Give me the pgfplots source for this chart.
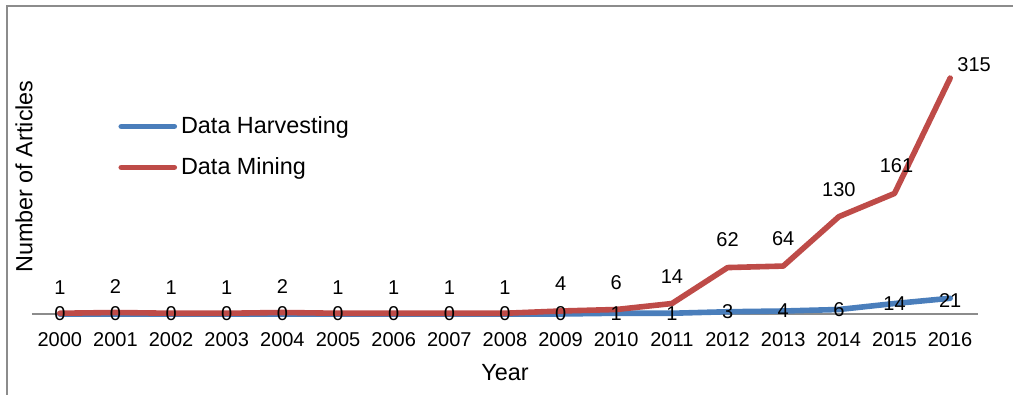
\documentclass[border=0pt]{standalone}
\usepackage{pgfplots}
\pgfplotsset{compat=1.18}
\usepackage{pgfplotstable}
\usepackage{fontspec}
\setmainfont{Liberation Sans}
\definecolor{dhblue}{HTML}{4A7EBB}
\definecolor{dmred}{HTML}{BE4B48}
\definecolor{framegray}{HTML}{8C8C8C}

\pgfplotstableread{
year val dx dy
2000 0 0 0
2001 0 0 0
2002 0 0 0
2003 0 0 0
2004 0 0 0
2005 0 0 0
2006 0 0 0
2007 0 0 0
2008 0 0 0
2009 0 0 0
2010 1 0 0
2011 1 0 0
2012 3 0 0
2013 4 0 0
2014 6 0 0
2015 14 0 0
2016 21 0 -1
}\harvest

\pgfplotstableread{
year val dx dy
2000 1 0 13
2001 2 0 13
2002 1 0 13
2003 1 0 13
2004 2 0 13
2005 1 0 13
2006 1 0 13
2007 1 0 13
2008 1 0 13
2009 4 0 13.5
2010 6 0 13.5
2011 14 0 13.5
2012 62 0 14
2013 64 0 13.5
2014 130 0 13.5
2015 161 1 14
2016 315 12 6.5
}\mining

\begin{document}
\begin{tikzpicture}
\useasboundingbox (0,0) rectangle (506.5pt,-197.5pt);
\draw[framegray, line width=1pt] (3.5pt,-197.5pt) -- (3.5pt,-3pt) -- (506.5pt,-3pt);
\begin{axis}[
  at={(16pt,-157pt)}, anchor=south west,
  scale only axis, width=473pt, height=134.8pt,
  xmin=1999.5, xmax=2016.5, ymin=0, ymax=360,
  axis y line=none, axis x line*=bottom,
  x axis line style={framegray, line width=0.6pt},
  xtick={2000,...,2016}, major tick length=0pt,
  xticklabel style={/pgf/number format/1000 sep={}, /pgf/number format/assume math mode=true, font=\fontsize{10}{12}\selectfont, yshift=-5.5pt},
  clip=false,
  legend style={draw=none, fill=none, at={(0.091,0.749)}, anchor=north west, inner sep=0pt, row sep=6.5pt, font=\fontsize{11.7}{14}\selectfont, nodes={inner sep=2pt}},
  legend cell align=left,
  legend image code/.code={\draw[#1] (0pt,0pt) -- (26.5pt,0pt);},
]
\addplot[dhblue, line width=2.8pt, line cap=round, line join=round,
  point meta=explicit symbolic,
  visualization depends on={\thisrow{dx} \as \dx},
  visualization depends on={\thisrow{dy} \as \dy},
  nodes near coords,
  nodes near coords style={anchor=center, xshift=\dx pt, yshift=\dy pt, font=\fontsize{10}{12}\selectfont, text=black}]
  table[x=year, y=val, meta=val] {\harvest};
\addlegendentry{Data Harvesting}
\addplot[dmred, line width=2.8pt, line cap=round, line join=round,
  point meta=explicit symbolic,
  visualization depends on={\thisrow{dx} \as \dx},
  visualization depends on={\thisrow{dy} \as \dy},
  nodes near coords,
  nodes near coords style={anchor=center, xshift=\dx pt, yshift=\dy pt, font=\fontsize{10}{12}\selectfont, text=black}]
  table[x=year, y=val, meta=val] {\mining};
\addlegendentry{Data Mining}
\end{axis}
\node[rotate=90, font=\fontsize{11.7}{14}\selectfont] at (12pt,-88.25pt) {Number of Articles};
\node[font=\fontsize{11.7}{14}\selectfont] at (252.5pt,-186.5pt) {Year};
\end{tikzpicture}
\end{document}
